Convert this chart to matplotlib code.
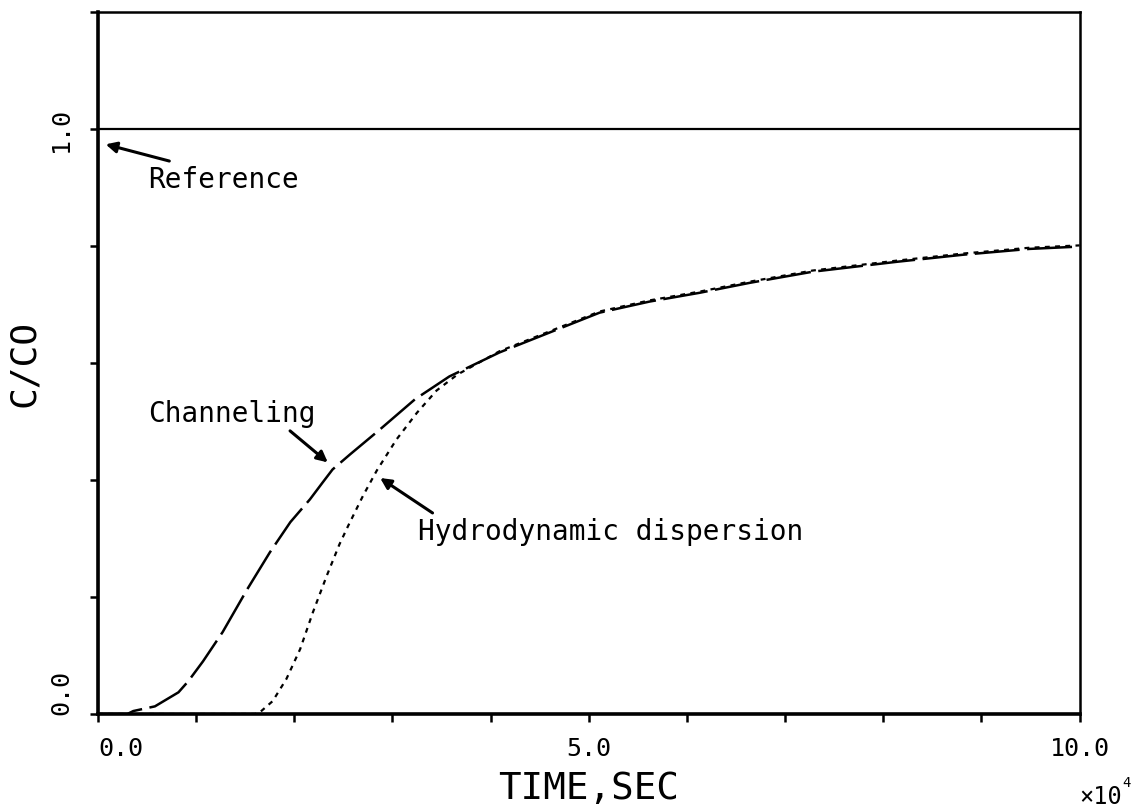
import numpy as np
import matplotlib
matplotlib.use("Agg")
from matplotlib import pyplot as plt

# Time in units of 1e4 sec, concentration ratio C/C0
ref_t = [0.0, 0.0, 10.0]
ref_c = [0.0, 1.0, 1.0]

chan_t = [0.0, 0.3, 0.36, 0.58, 0.82, 0.92, 1.07, 1.27, 1.52, 1.75, 1.96, 2.16, 2.29,
          2.39, 2.57, 2.87, 3.23, 3.58, 4.09, 4.60, 5.11, 5.62, 6.13, 6.64, 7.28, 8.14,
          8.81, 9.49, 10.0]
chan_c = [0.0, 0.0, 0.005, 0.013, 0.037, 0.056, 0.09, 0.14, 0.213, 0.276, 0.328, 0.367,
          0.396, 0.418, 0.444, 0.486, 0.538, 0.577, 0.618, 0.652, 0.686, 0.705, 0.72,
          0.737, 0.756, 0.773, 0.785, 0.795, 0.799]

hydro_t = [0.0, 1.6, 1.65, 1.78, 1.92, 2.06, 2.19, 2.33, 2.46, 2.55, 2.70, 2.84, 3.04,
           3.25, 3.45, 3.66, 4.09, 4.60, 5.11, 5.62, 6.13, 6.64, 7.28, 8.14, 8.81, 9.49,
           10.0]
hydro_c = [0.0, 0.0, 0.003, 0.022, 0.06, 0.111, 0.174, 0.236, 0.29, 0.322, 0.373, 0.416,
           0.469, 0.515, 0.553, 0.58, 0.62, 0.654, 0.688, 0.707, 0.722, 0.739, 0.758,
           0.775, 0.787, 0.797, 0.801]

x_ticks = np.arange(0, 11, 1)
x_labels = {0: "0.0", 5: "5.0", 10: "10.0"}
y_ticks = np.arange(0, 1.21, 0.2)
y_labels = {0: "0.0", 5: "1.0"}

plt.rcParams["font.family"] = ["DejaVu Sans Mono"]

fig = plt.figure(figsize=(11.34, 8.12), dpi=100)
ax = fig.add_axes([0.0864, 0.1195, 0.8656, 0.8645])

ax.plot(ref_t, ref_c, color="black", lw=1.6, solid_capstyle="butt")
ax.plot(chan_t, chan_c, color="black", lw=1.8, dashes=(18, 3))
ax.plot(hydro_t, hydro_c, color="black", lw=1.6, dashes=(2.2, 2.4))

ax.set_xlim(0, 10)
ax.set_ylim(0, 1.2)

for side in ["left", "bottom"]:
    ax.spines[side].set_linewidth(2.6)
for side in ["right", "top"]:
    ax.spines[side].set_linewidth(1.8)

ax.set_xticks(x_ticks)
ax.set_xticklabels([x_labels.get(i, "") for i in range(len(x_ticks))])
ax.set_yticks(y_ticks)
ax.set_yticklabels([y_labels.get(i, "") for i in range(len(y_ticks))],
                   rotation=90, va="center")
ax.tick_params(axis="both", direction="out", length=6, width=1.8, labelsize=18)
ax.tick_params(axis="x", pad=10)
ax.tick_params(axis="y", pad=12)
ax.get_xticklabels()[0].set_horizontalalignment("left")
ax.get_yticklabels()[0].set_verticalalignment("bottom")

ax.set_xlabel("TIME,SEC", fontsize=27, labelpad=7)
ax.set_ylabel("C/CO", fontsize=26, labelpad=6)
ax.text(1.0214, -0.117, "×10", transform=ax.transAxes,
        fontsize=17, ha="center", va="center")
ax.text(1.048, -0.097, "4", transform=ax.transAxes,
        fontsize=10, ha="center", va="center")

arrow = dict(arrowstyle="-|>", color="black", lw=2.2, mutation_scale=16)
ax.text(0.509, 0.900, "Reference", fontsize=20, ha="left", va="baseline")
ax.annotate("", xy=(0.051, 0.975), xytext=(0.754, 0.944), arrowprops=arrow)
ax.text(0.509, 0.500, "Channeling", fontsize=20, ha="left", va="baseline")
ax.annotate("", xy=(2.363, 0.427), xytext=(1.935, 0.487), arrowprops=arrow)
ax.text(3.259, 0.299, "Hydrodynamic dispersion", fontsize=20, ha="left", va="baseline")
ax.annotate("", xy=(2.851, 0.406), xytext=(3.432, 0.341), arrowprops=arrow)

fig.savefig("out.png", dpi=100)
